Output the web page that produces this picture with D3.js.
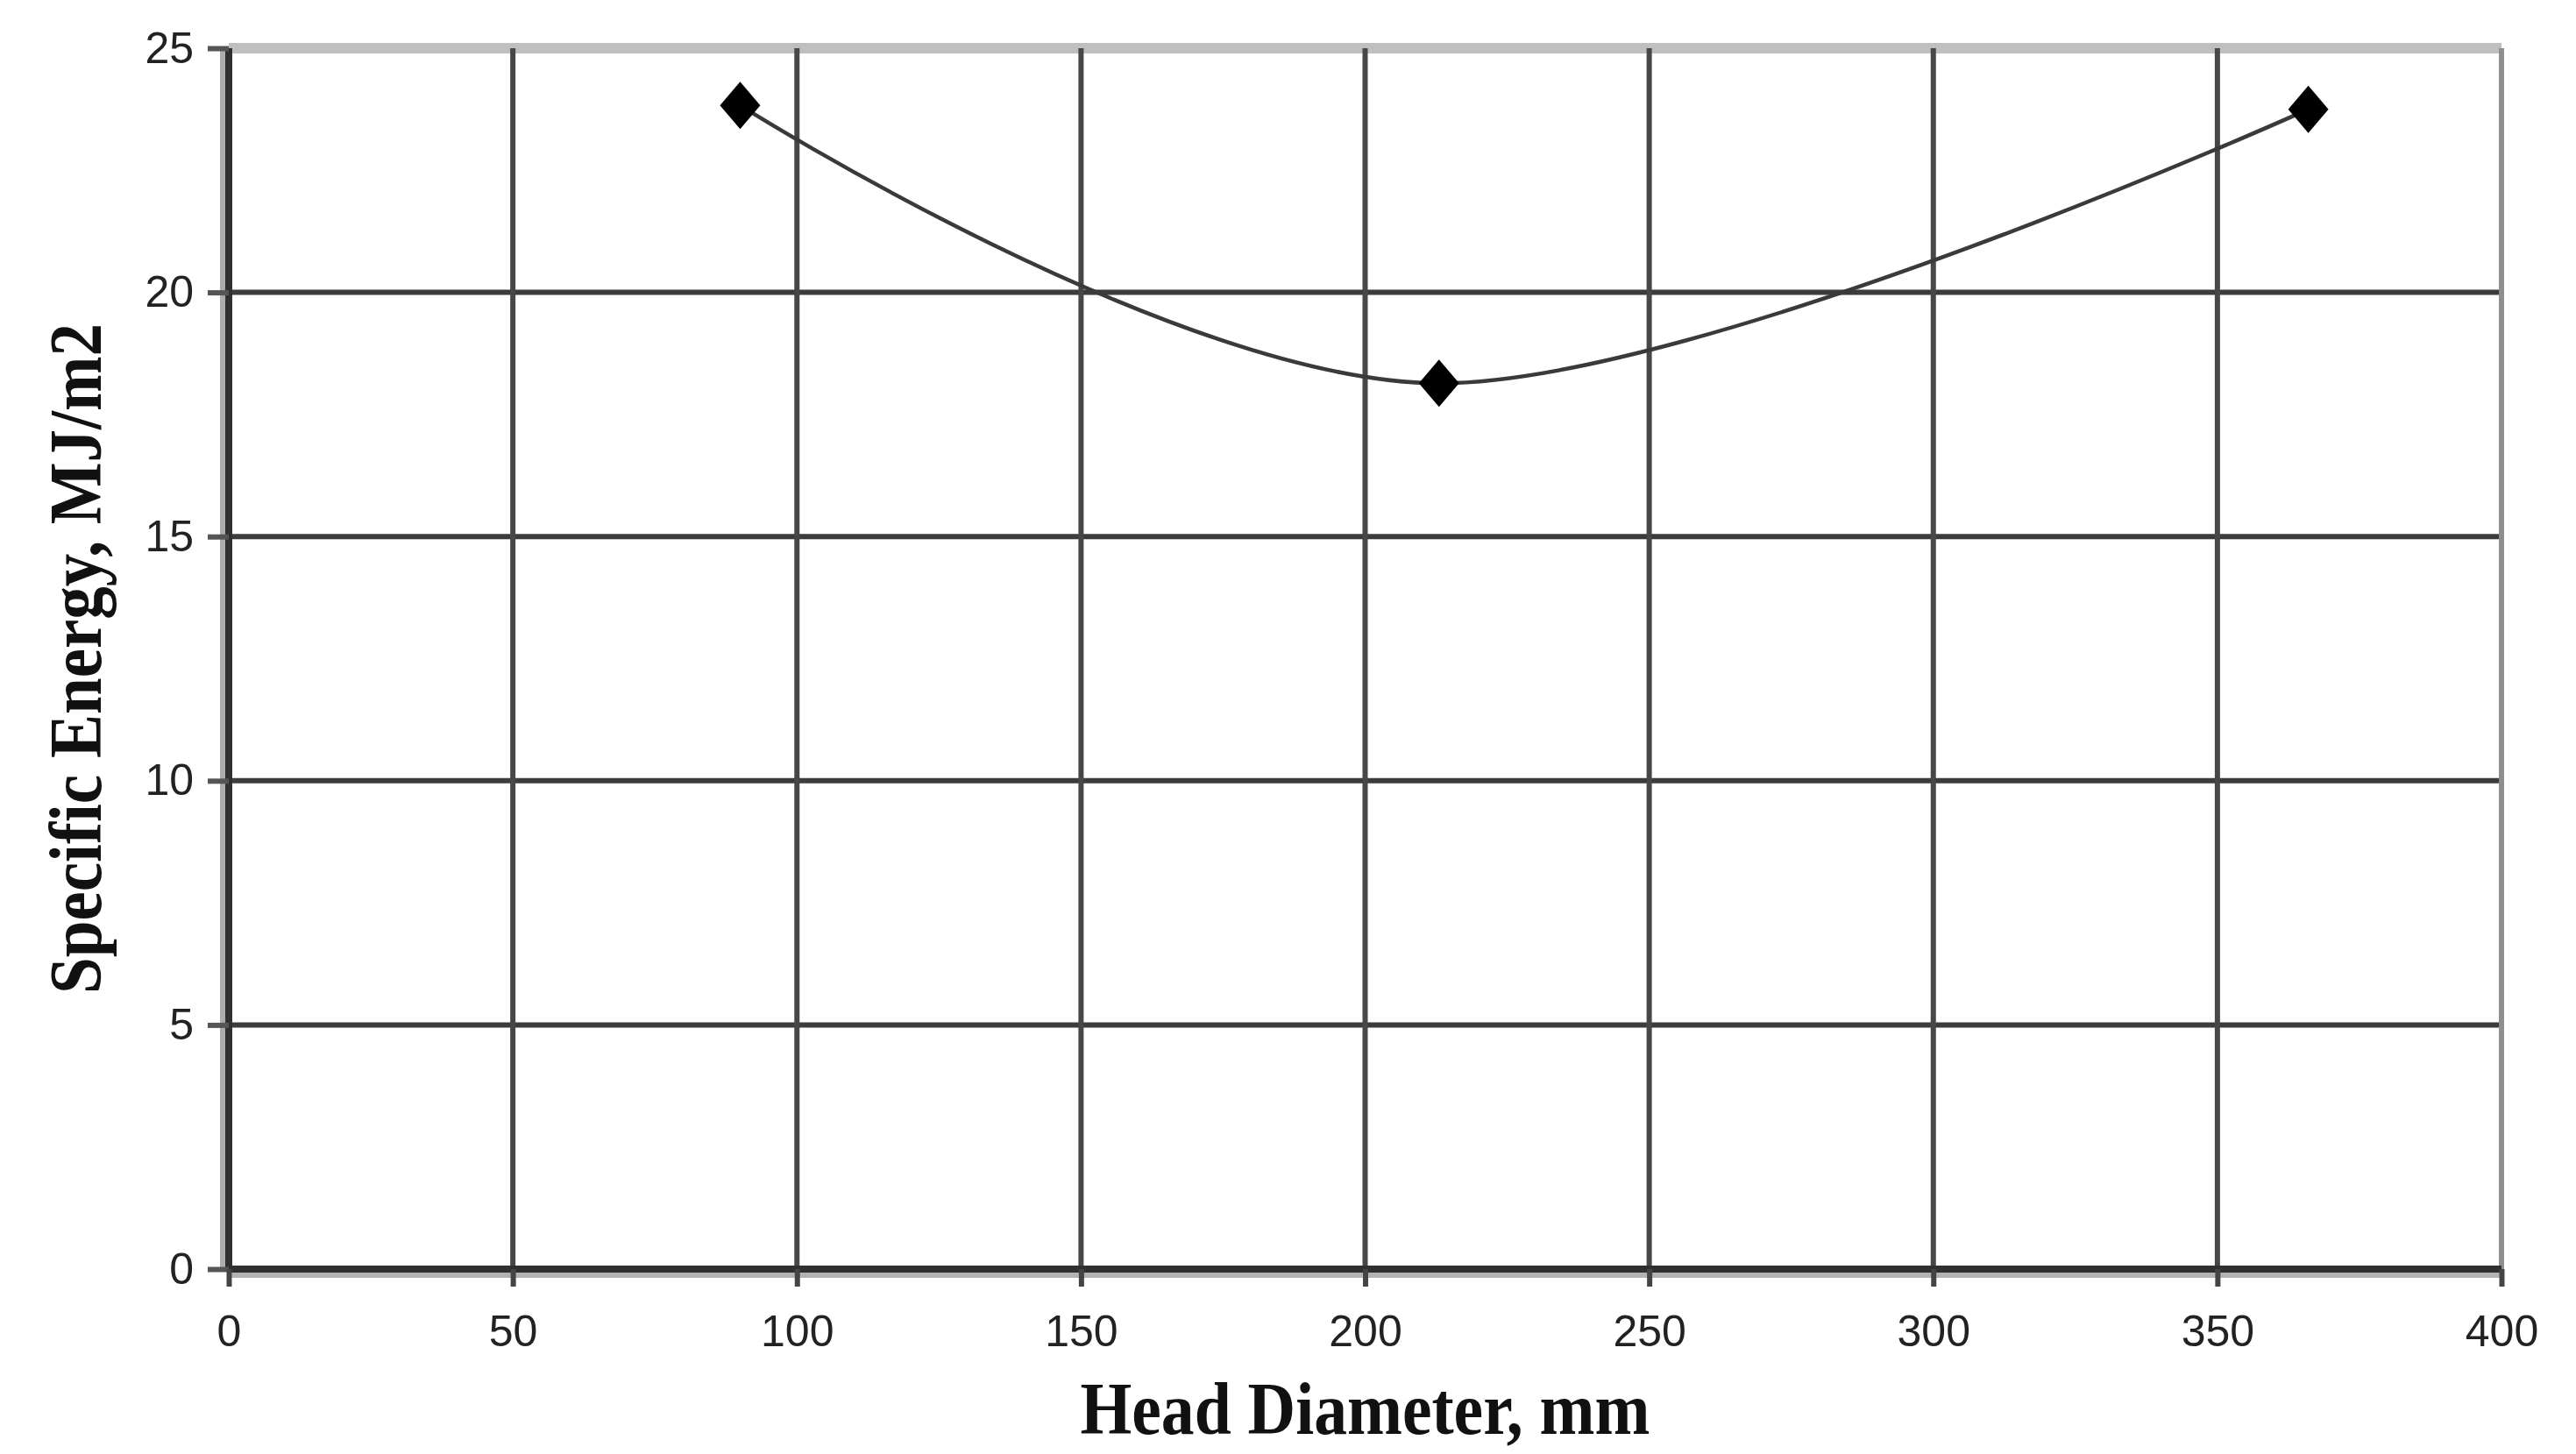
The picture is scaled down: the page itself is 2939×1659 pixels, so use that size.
<!DOCTYPE html>
<html lang="en">
<head>
    <meta charset="UTF-8">
    <script src="https://d3js.org/d3.v7.min.js"></script>
    <style>
        body { margin: 0; background: white; }
        .tick text {
            font-family: "Liberation Sans", Arial, sans-serif;
            font-size: 50px;
            fill: #222;
        }
        .title {
            font-family: "Liberation Serif", "Times New Roman", serif;
            font-weight: bold;
            font-size: 84px;
            fill: #111;
        }
    </style>
</head>
<body>
    <svg id="chart" width="2939" height="1659"></svg>
    <script>
        // values
        const headDiameter = [90, 213, 366];
        const specificEnergy = [23.83, 18.14, 23.75];
        const xTicks = [0, 50, 100, 150, 200, 250, 300, 350, 400];
        const yTicks = [0, 5, 10, 15, 20, 25];

        const points = headDiameter.map((d, i) => ({ x: d, y: specificEnergy[i] }));

        const width = 2939, height = 1659;
        const margin = { top: 55, right: 85, bottom: 211, left: 261 };

        const svg = d3.select("#chart");

        const x = d3.scaleLinear()
            .domain([0, 400])
            .range([margin.left, width - margin.right]);

        const y = d3.scaleLinear()
            .domain([0, 25])
            .range([height - margin.bottom, margin.top]);

        // grid lines
        const grid = svg.append("g");
        grid.selectAll(".hgrid")
            .data(yTicks.filter(d => d > 0))
            .enter().append("line")
            .attr("x1", x(0))
            .attr("x2", x(400))
            .attr("y1", d => y(d))
            .attr("y2", d => y(d))
            .attr("stroke", d => d === 25 ? "#bfbfbf" : "#3c3c3c")
            .attr("stroke-width", d => d === 25 ? 12 : 6);

        grid.selectAll(".vgrid")
            .data(xTicks.filter(d => d > 0))
            .enter().append("line")
            .attr("x1", d => x(d))
            .attr("x2", d => x(d))
            .attr("y1", y(0))
            .attr("y2", y(25))
            .attr("stroke", d => d === 400 ? "#8e8e8e" : "#474747")
            .attr("stroke-width", 6);

        // axis lines with their soft grey edge
        svg.append("line")
            .attr("x1", x(0) - 7).attr("x2", x(0) - 7)
            .attr("y1", y(25)).attr("y2", y(0))
            .attr("stroke", "#adadad").attr("stroke-width", 6);
        svg.append("line")
            .attr("x1", x(0)).attr("x2", x(400))
            .attr("y1", y(0) + 7).attr("y2", y(0) + 7)
            .attr("stroke", "#b3b3b3").attr("stroke-width", 6);
        svg.append("line")
            .attr("x1", x(0)).attr("x2", x(0))
            .attr("y1", y(25)).attr("y2", y(0))
            .attr("stroke", "#303030").attr("stroke-width", 8);
        svg.append("line")
            .attr("x1", x(0)).attr("x2", x(400))
            .attr("y1", y(0)).attr("y2", y(0))
            .attr("stroke", "#303030").attr("stroke-width", 8);

        const yAxis = svg.append("g")
            .attr("transform", `translate(${x(0)},0)`)
            .call(d3.axisLeft(y).tickValues(yTicks).tickSize(24).tickPadding(16));
        yAxis.select(".domain").remove();
        yAxis.selectAll(".tick line").attr("stroke", "#555").attr("stroke-width", 6);

        const xAxis = svg.append("g")
            .attr("transform", `translate(0,${y(0)})`)
            .call(d3.axisBottom(x).tickValues(xTicks).tickSize(20).tickPadding(32));
        xAxis.select(".domain").remove();
        xAxis.selectAll(".tick line").attr("stroke", "#444").attr("stroke-width", 6);

        // smoothed line, like the spreadsheet's
        const line = d3.line()
            .x(d => x(d.x))
            .y(d => y(d.y))
            .curve(d3.curveCardinal.tension(0));

        svg.append("path")
            .datum(points)
            .attr("d", line)
            .attr("fill", "none")
            .attr("stroke", "#3a3a3a")
            .attr("stroke-width", 4.5);

        // diamond markers
        const hw = 23, hh = 27;
        svg.selectAll(".marker")
            .data(points)
            .enter().append("path")
            .attr("class", "marker")
            .attr("d", d => {
                const cx = x(d.x), cy = y(d.y);
                return `M${cx},${cy - hh}L${cx + hw},${cy}L${cx},${cy + hh}L${cx - hw},${cy}Z`;
            })
            .attr("fill", "#000");

        // axis titles
        svg.append("text")
            .attr("class", "title")
            .attr("x", (x(0) + x(400)) / 2)
            .attr("y", 1636)
            .attr("text-anchor", "middle")
            .attr("textLength", 650)
            .attr("lengthAdjust", "spacingAndGlyphs")
            .text("Head Diameter, mm");

        svg.append("text")
            .attr("class", "title")
            .attr("transform", `translate(115,${(y(0) + y(25)) / 2}) rotate(-90)`)
            .attr("text-anchor", "middle")
            .attr("textLength", 765)
            .attr("lengthAdjust", "spacingAndGlyphs")
            .text("Specific Energy, MJ/m2");
    </script>
</body>
</html>
